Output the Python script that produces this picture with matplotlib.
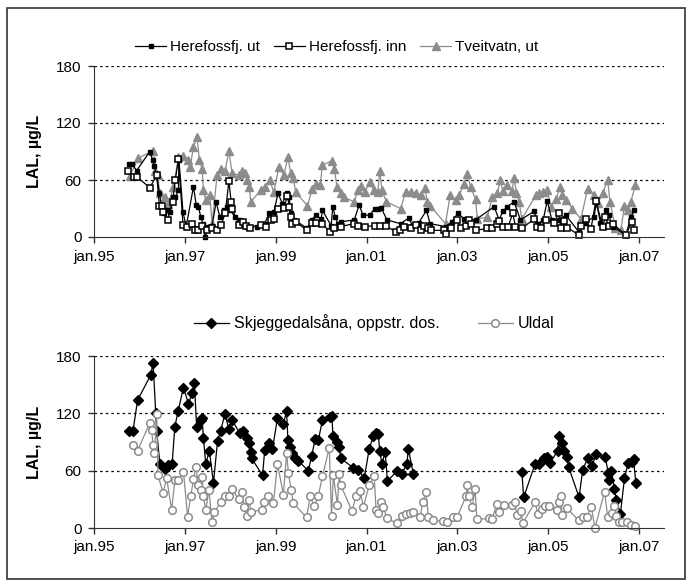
import numpy as np
import matplotlib
matplotlib.use("Agg")
import matplotlib.pyplot as plt
from matplotlib.patches import Rectangle

plt.rcParams['font.family'] = ['Liberation Sans', 'DejaVu Sans']
plt.rcParams['font.size'] = 11

# %% data, decimal years and LAL values (ug/L)
ut_yr = [1995.77, 1995.83, 1995.94, 1996.23, 1996.29, 1996.32, 1996.38, 1996.44, 1996.49, 1996.54,
         1996.60, 1996.68, 1996.73, 1996.79, 1996.86, 1996.87, 1996.96, 1997.03, 1997.19, 1997.25,
         1997.30, 1997.35, 1997.40, 1997.45, 1997.51, 1997.60, 1997.69, 1997.77, 1997.86, 1997.93,
         1998.00, 1998.11, 1998.22, 1998.28, 1998.37, 1998.59, 1998.76, 1998.85, 1998.96, 1999.05,
         1999.15, 1999.24, 1999.30, 1999.33, 1999.41, 1999.70, 1999.79, 1999.89, 2000.00, 2000.03,
         2000.22, 2000.26, 2000.31, 2000.37, 2000.44, 2000.73, 2000.84, 2000.92, 2001.07, 2001.18,
         2001.25, 2001.32, 2001.45, 2001.75, 2001.93, 2002.01, 2002.15, 2002.32, 2002.40, 2002.74,
         2002.88, 2003.01, 2003.15, 2003.40, 2003.81, 2003.92, 2004.00, 2004.10, 2004.25, 2004.39,
         2004.69, 2004.78, 2004.89, 2004.98, 2005.08, 2005.24, 2005.39, 2005.68, 2005.80, 2006.01,
         2006.06, 2006.15, 2006.27, 2006.33, 2006.42, 2006.71, 2006.82, 2006.90]
ut_val = [77, 77, 70, 90, 81, 75, 65, 46, 32, 25,
          28, 26, 42, 42, 49, 81, 26, 11, 53, 34,
          32, 21, 14, 0, 11, 12, 37, 21, 28, 32,
          28, 21, 18, 14, 11, 11, 14, 25, 26, 46,
          35, 46, 42, 25, 18, 9, 18, 23, 19, 28,
          12, 32, 21, 14, 16, 18, 34, 23, 23, 30,
          30, 31, 18, 14, 20, 12, 15, 28, 14, 11,
          16, 25, 19, 18, 32, 18, 27, 32, 37, 18,
          27, 14, 18, 38, 18, 18, 23, 5, 15, 21,
          37, 15, 28, 23, 11, 2, 21, 28]

inn_yr = [1995.75, 1995.88, 1995.95, 1996.23, 1996.38, 1996.44, 1996.49, 1996.53, 1996.62, 1996.73,
          1996.79, 1996.86, 1996.96, 1997.04, 1997.15, 1997.23, 1997.30, 1997.38, 1997.49, 1997.60,
          1997.71, 1997.80, 1997.89, 1997.97, 1998.02, 1998.04, 1998.19, 1998.28, 1998.34, 1998.43,
          1998.67, 1998.78, 1998.89, 1998.96, 1999.05, 1999.18, 1999.26, 1999.30, 1999.33, 1999.37,
          1999.44, 1999.69, 1999.79, 1999.89, 2000.03, 2000.20, 2000.29, 2000.43, 2000.72, 2000.81,
          2000.97, 2001.18, 2001.29, 2001.42, 2001.66, 2001.73, 2001.82, 2001.98, 2002.08, 2002.19,
          2002.26, 2002.35, 2002.41, 2002.70, 2002.74, 2002.85, 2003.00, 2003.07, 2003.18, 2003.26,
          2003.29, 2003.40, 2003.66, 2003.77, 2003.88, 2003.92, 2004.00, 2004.12, 2004.22, 2004.28,
          2004.42, 2004.69, 2004.76, 2004.84, 2004.95, 2005.13, 2005.23, 2005.28, 2005.35, 2005.42,
          2005.68, 2005.72, 2005.83, 2005.94, 2006.05, 2006.20, 2006.26, 2006.33, 2006.42, 2006.71,
          2006.84, 2006.90]
inn_val = [69, 63, 63, 52, 65, 33, 33, 26, 18, 37,
           60, 82, 13, 11, 14, 7, 7, 12, 7, 9,
           7, 13, 25, 59, 37, 30, 13, 16, 12, 10,
           13, 11, 18, 19, 29, 31, 43, 32, 21, 14,
           16, 7, 15, 15, 14, 5, 10, 11, 14, 12,
           11, 12, 12, 12, 5, 7, 11, 10, 13, 7,
           12, 10, 7, 7, 3, 10, 18, 10, 12, 18,
           14, 7, 9, 10, 14, 17, 11, 11, 25, 11,
           9, 19, 11, 9, 18, 15, 25, 9, 17, 10,
           2, 12, 19, 8, 38, 11, 21, 12, 14, 2,
           16, 7]

tv_yr = [1995.79, 1995.97, 1996.31, 1996.35, 1996.40, 1996.45, 1996.56, 1996.64, 1996.75, 1996.86,
         1996.97, 1997.08, 1997.12, 1997.19, 1997.27, 1997.32, 1997.38, 1997.41, 1997.46, 1997.55,
         1997.60, 1997.71, 1997.80, 1997.89, 1997.97, 1998.04, 1998.19, 1998.25, 1998.32, 1998.37,
         1998.42, 1998.45, 1998.67, 1998.76, 1998.87, 1998.96, 1999.07, 1999.18, 1999.27, 1999.33,
         1999.39, 1999.44, 1999.70, 1999.81, 1999.89, 1999.98, 2000.03, 2000.24, 2000.29, 2000.35,
         2000.43, 2000.50, 2000.73, 2000.81, 2000.88, 2000.96, 2001.07, 2001.16, 2001.25, 2001.29,
         2001.34, 2001.44, 2001.75, 2001.86, 2001.97, 2002.08, 2002.19, 2002.28, 2002.34, 2002.40,
         2002.74, 2002.84, 2002.96, 2003.04, 2003.15, 2003.22, 2003.29, 2003.40, 2003.44, 2003.66,
         2003.77, 2003.88, 2003.95, 2004.00, 2004.10, 2004.20, 2004.25, 2004.30, 2004.36, 2004.42,
         2004.73, 2004.80, 2004.89, 2004.98, 2005.06, 2005.18, 2005.26, 2005.31, 2005.40, 2005.53,
         2005.72, 2005.87, 2006.01, 2006.10, 2006.20, 2006.31, 2006.36, 2006.48, 2006.60, 2006.68,
         2006.75, 2006.82, 2006.92]
tv_val = [64, 83, 91, 70, 65, 46, 42, 35, 53, 84,
          85, 81, 74, 95, 105, 81, 72, 49, 39, 44,
          14, 65, 72, 70, 91, 67, 65, 70, 67, 60,
          53, 37, 49, 53, 60, 47, 74, 65, 84, 67,
          62, 47, 33, 51, 56, 55, 76, 80, 72, 53,
          46, 42, 37, 49, 54, 47, 58, 49, 47, 70,
          49, 37, 30, 47, 47, 46, 44, 52, 37, 33,
          14, 44, 39, 44, 56, 66, 53, 40, 19, 21,
          42, 46, 60, 48, 55, 48, 62, 46, 37, 19,
          44, 46, 47, 49, 32, 40, 53, 44, 39, 30,
          19, 51, 44, 36, 46, 60, 37, 9, 7, 33,
          28, 37, 55]

sk_yr = [1995.77, 1995.86, 1995.96, 1996.25, 1996.30, 1996.36, 1996.38, 1996.45, 1996.56, 1996.63,
         1996.72, 1996.78, 1996.85, 1996.97, 1997.08, 1997.16, 1997.21, 1997.26, 1997.35, 1997.38,
         1997.41, 1997.46, 1997.54, 1997.63, 1997.72, 1997.79, 1997.88, 1997.97, 1998.04, 1998.21,
         1998.29, 1998.36, 1998.41, 1998.46, 1998.47, 1998.71, 1998.76, 1998.85, 1998.93, 1999.04,
         1999.17, 1999.24, 1999.27, 1999.31, 1999.37, 1999.42, 1999.50, 1999.72, 1999.79, 1999.87,
         1999.94, 2000.03, 2000.20, 2000.24, 2000.26, 2000.35, 2000.40, 2000.43, 2000.71, 2000.82,
         2000.95, 2001.06, 2001.15, 2001.21, 2001.26, 2001.29, 2001.34, 2001.41, 2001.46, 2001.68,
         2001.78, 2001.89, 2001.92, 2002.03, 2003.20, 2004.42, 2004.46, 2004.71, 2004.79, 2004.90,
         2004.97, 2005.04, 2005.21, 2005.24, 2005.30, 2005.34, 2005.41, 2005.45, 2005.68, 2005.76,
         2005.87, 2005.96, 2006.06, 2006.26, 2006.32, 2006.34, 2006.39, 2006.46, 2006.50, 2006.59,
         2006.68, 2006.76, 2006.84, 2006.88, 2006.93]
sk_val = [101, 102, 134, 160, 173, 120, 102, 67, 62, 66,
          67, 106, 122, 147, 130, 141, 152, 106, 113, 115,
          94, 67, 81, 47, 91, 102, 119, 104, 113, 99,
          102, 94, 89, 80, 73, 55, 82, 89, 83, 115,
          109, 122, 92, 85, 79, 73, 70, 60, 75, 93,
          92, 113, 116, 117, 96, 90, 85, 73, 63, 61,
          52, 83, 96, 99, 98, 81, 67, 80, 49, 60,
          57, 67, 83, 57, np.nan, 59, 32, 67, 67, 73,
          74, 68, 81, 96, 89, 81, 74, 64, 32, 61,
          73, 65, 77, 74, 58, 50, 60, 41, 29, 15,
          52, 68, 69, 72, 47]

ul_yr = [1995.86, 1995.96, 1996.23, 1996.27, 1996.30, 1996.33, 1996.38, 1996.41, 1996.52, 1996.60,
         1996.71, 1996.78, 1996.85, 1996.97, 1997.06, 1997.13, 1997.19, 1997.24, 1997.30, 1997.35,
         1997.38, 1997.41, 1997.46, 1997.53, 1997.60, 1997.65, 1997.79, 1997.88, 1997.97, 1998.03,
         1998.19, 1998.25, 1998.31, 1998.36, 1998.41, 1998.46, 1998.69, 1998.74, 1998.84, 1998.95,
         1999.04, 1999.17, 1999.24, 1999.28, 1999.34, 1999.39, 1999.68, 1999.76, 1999.85, 1999.94,
         2000.03, 2000.18, 2000.23, 2000.27, 2000.36, 2000.40, 2000.43, 2000.68, 2000.77, 2000.86,
         2000.93, 2001.06, 2001.17, 2001.21, 2001.26, 2001.31, 2001.37, 2001.45, 2001.67, 2001.78,
         2001.87, 2001.95, 2002.03, 2002.18, 2002.24, 2002.31, 2002.36, 2002.46, 2002.68, 2002.78,
         2002.90, 2003.00, 2003.19, 2003.22, 2003.25, 2003.33, 2003.39, 2003.43, 2003.69, 2003.76,
         2003.87, 2003.91, 2004.02, 2004.20, 2004.26, 2004.31, 2004.41, 2004.44, 2004.71, 2004.77,
         2004.86, 2004.92, 2005.01, 2005.19, 2005.24, 2005.29, 2005.30, 2005.41, 2005.67, 2005.76,
         2005.85, 2005.95, 2006.03, 2006.24, 2006.31, 2006.40, 2006.44, 2006.49, 2006.55, 2006.62,
         2006.73, 2006.83, 2006.92]
ul_val = [87, 81, 110, 103, 87, 78, 119, 55, 37, 52,
          19, 50, 50, 59, 12, 33, 51, 64, 45, 40,
          53, 33, 19, 40, 6, 17, 27, 34, 34, 41,
          30, 38, 22, 13, 29, 17, 19, 27, 33, 26,
          67, 35, 78, 58, 40, 26, 11, 33, 23, 34,
          54, 84, 13, 55, 24, 56, 45, 18, 33, 39,
          22, 45, 54, 19, 16, 27, 22, 10, 5, 13,
          15, 16, 17, 12, 27, 38, 12, 8, 7, 6,
          12, 12, 33, 45, 33, 22, 41, 9, 10, 9,
          25, 17, 24, 24, 27, 14, 18, 5, 27, 15,
          20, 23, 23, 19, 27, 33, 14, 21, 8, 12,
          12, 22, 0, 38, 12, 16, 23, 13, 6, 6,
          6, 3, 2]

tick_years = [1995, 1997, 1999, 2001, 2003, 2005, 2007]
tick_labels = ['jan.95', 'jan.97', 'jan.99', 'jan.01', 'jan.03', 'jan.05', 'jan.07']
y_ticks = [0, 60, 120, 180]

W, H = 694, 585
fig = plt.figure(figsize=(W / 100, H / 100), dpi=100)
fig.patches.append(Rectangle((7 / W, 1 - 579 / H), 678 / W, 571 / H, transform=fig.transFigure,
                             fill=False, edgecolor='#333333', linewidth=1.2))

ax1 = fig.add_axes([94 / W, 1 - 237 / H, 570 / W, 171 / H])
ax2 = fig.add_axes([94 / W, 1 - 528 / H, 570 / W, 172 / H])

gray = '#8c8c8c'

# %% top panel
l3, = ax1.plot(tv_yr, tv_val, color=gray, lw=0.9, marker='^', ms=5.5, mfc=gray, mec=gray,
               clip_on=False, label='Tveitvatn, ut')
l1, = ax1.plot(ut_yr, ut_val, color='black', lw=0.9, marker='s', ms=3, mfc='black', mec='black',
               clip_on=False, label='Herefossfj. ut')
l2, = ax1.plot(inn_yr, inn_val, color='black', lw=0.9, marker='s', ms=5, mfc='white', mec='black',
               mew=1.1, clip_on=False, label='Herefossfj. inn')
fig.legend(handles=[l1, l2, l3], loc='center', bbox_to_anchor=(337 / W, 1 - 47 / H), ncol=3,
           frameon=False, handlelength=2.0, handletextpad=0.3, columnspacing=0.9, fontsize=11)

# %% bottom panel
s1, = ax2.plot(sk_yr, sk_val, color='black', lw=0.9, marker='D', ms=5.5, mfc='black', mec='black',
               clip_on=False, label='Skjeggedalsåna, oppstr. dos.')
s2, = ax2.plot(ul_yr, ul_val, color=gray, lw=0.9, marker='o', ms=5.5, mfc='white', mec=gray,
               mew=1.1, clip_on=False, label='Uldal')
fig.legend(handles=[s1, s2], loc='center', bbox_to_anchor=(374 / W, 1 - 323 / H), ncol=2,
           frameon=False, handlelength=2.2, handletextpad=0.3, columnspacing=2.4, fontsize=11.5)

for ax in (ax1, ax2):
    ax.set_xlim(1995, 2007.55)
    ax.set_ylim(0, 180)
    ax.set_xticks(tick_years)
    ax.set_xticklabels(tick_labels)
    ax.set_yticks(y_ticks)
    for v in y_ticks[1:]:
        ax.axhline(v, color='black', lw=0.9, ls=(0, (2, 2.5)), zorder=0)
    ax.spines['top'].set_visible(False)
    ax.spines['right'].set_visible(False)
    ax.spines['left'].set_color('#333333')
    ax.spines['bottom'].set_color('#333333')
    ax.tick_params(direction='out', length=4, width=1, colors='#333333', labelsize=11,
                   labelcolor='black', pad=5)
    ax.set_ylabel('LAL, µg/L', fontweight='bold', fontsize=11.5, labelpad=10)

fig.savefig('out.png', dpi=100)
